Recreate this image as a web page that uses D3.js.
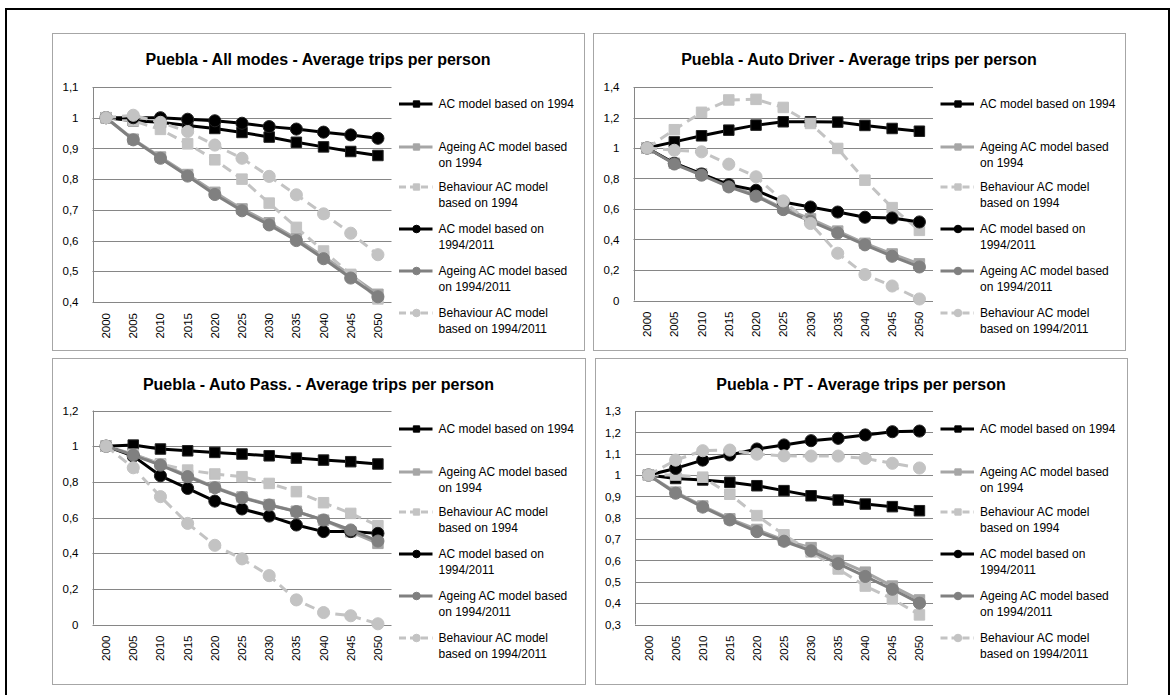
<!DOCTYPE html>
<html>
<head>
<meta charset="utf-8">
<script src="https://cdn.jsdelivr.net/npm/d3@7"></script>
<style>
  html, body { margin: 0; padding: 0; background: #fff; }
  svg { display: block; font-family: "Liberation Sans", Arial, sans-serif; }
</style>
</head>
<body>
<svg id="chart" width="1172" height="695"></svg>
<script>
// ---------- DATA ----------
const years = ["2000","2005","2010","2015","2020","2025","2030","2035","2040","2045","2050"];

const legendLabels = [
  ["AC model based on 1994"],
  ["Ageing AC model based", "on 1994"],
  ["Behaviour AC model", "based on 1994"],
  ["AC model based on", "1994/2011"],
  ["Ageing AC model based", "on 1994/2011"],
  ["Behaviour AC model", "based on 1994/2011"]
];

const titles = [
  "Puebla - All modes - Average trips per person",
  "Puebla - Auto Driver - Average trips per person",
  "Puebla - Auto Pass. - Average trips per person",
  "Puebla - PT - Average trips per person"
];

const allModesTicks   = [0.4, 0.5, 0.6, 0.7, 0.8, 0.9, 1.0, 1.1];
const autoDriverTicks = [0, 0.2, 0.4, 0.6, 0.8, 1.0, 1.2, 1.4];
const autoPassTicks   = [0, 0.2, 0.4, 0.6, 0.8, 1.0, 1.2];
const ptTicks         = [0.3, 0.4, 0.5, 0.6, 0.7, 0.8, 0.9, 1.0, 1.1, 1.2, 1.3];

// series order: AC 1994, Ageing 1994, Behaviour 1994, AC 1994/2011, Ageing 1994/2011, Behaviour 1994/2011
const allModesValues = [
  [1.0, 0.99, 0.985, 0.975, 0.965, 0.952, 0.937, 0.92, 0.905, 0.89, 0.877],
  [1.0, 0.93, 0.872, 0.815, 0.757, 0.703, 0.658, 0.606, 0.548, 0.487, 0.425],
  [1.0, 0.99, 0.962, 0.915, 0.863, 0.80, 0.722, 0.643, 0.566, 0.49, 0.41],
  [1.0, 1.0, 1.0, 0.995, 0.99, 0.982, 0.971, 0.963, 0.953, 0.944, 0.933],
  [1.0, 0.928, 0.868, 0.81, 0.75, 0.697, 0.651, 0.60, 0.541, 0.478, 0.417],
  [1.0, 1.008, 0.985, 0.955, 0.911, 0.868, 0.809, 0.749, 0.687, 0.624, 0.554]
];
const autoDriverValues = [
  [1.0, 1.04, 1.08, 1.117, 1.15, 1.172, 1.172, 1.17, 1.148, 1.128, 1.11],
  [1.0, 0.90, 0.83, 0.755, 0.69, 0.605, 0.535, 0.455, 0.375, 0.305, 0.24],
  [1.0, 1.12, 1.234, 1.315, 1.319, 1.266, 1.161, 0.997, 0.789, 0.609, 0.46],
  [1.0, 0.90, 0.83, 0.76, 0.723, 0.646, 0.613, 0.58, 0.546, 0.541, 0.515],
  [1.0, 0.895, 0.822, 0.745, 0.684, 0.596, 0.52, 0.443, 0.365, 0.29, 0.22],
  [1.0, 0.985, 0.975, 0.894, 0.811, 0.653, 0.505, 0.31, 0.17, 0.095, 0.01]
];
const autoPassValues = [
  [1.0, 1.006, 0.984, 0.974, 0.965, 0.956, 0.946, 0.933, 0.922, 0.913, 0.90],
  [1.0, 0.955, 0.90, 0.835, 0.77, 0.715, 0.672, 0.635, 0.585, 0.52, 0.455],
  [1.0, 0.95, 0.90, 0.866, 0.844, 0.829, 0.791, 0.745, 0.683, 0.623, 0.554],
  [1.0, 0.944, 0.834, 0.763, 0.692, 0.648, 0.608, 0.558, 0.521, 0.521, 0.511],
  [1.0, 0.95, 0.894, 0.829, 0.767, 0.711, 0.67, 0.633, 0.586, 0.53, 0.468],
  [1.0, 0.879, 0.717, 0.567, 0.444, 0.368, 0.274, 0.138, 0.067, 0.049, 0.004]
];
const ptValues = [
  [1.0, 0.984, 0.977, 0.966, 0.95, 0.927, 0.903, 0.883, 0.864, 0.852, 0.833],
  [1.0, 0.92, 0.855, 0.795, 0.745, 0.695, 0.66, 0.60, 0.545, 0.48, 0.415],
  [1.0, 1.0, 0.99, 0.91, 0.81, 0.72, 0.64, 0.56, 0.48, 0.42, 0.345],
  [1.0, 1.031, 1.07, 1.094, 1.122, 1.141, 1.161, 1.172, 1.188, 1.203, 1.206],
  [1.0, 0.915, 0.85, 0.79, 0.735, 0.69, 0.645, 0.585, 0.525, 0.465, 0.40],
  [1.0, 1.07, 1.114, 1.117, 1.098, 1.09, 1.089, 1.089, 1.078, 1.055, 1.033]
];

// ---------- STYLE / LAYOUT ----------
const seriesStyles = [
  { stroke: "#000000", fill: "#000000", dash: null, shape: d3.symbolSquare },
  { stroke: "#a6a6a6", fill: "#a6a6a6", dash: null, shape: d3.symbolSquare },
  { stroke: "#c3c3c3", fill: "#c3c3c3", dash: "10,6", shape: d3.symbolSquare },
  { stroke: "#000000", fill: "#000000", dash: null, shape: d3.symbolCircle },
  { stroke: "#808080", fill: "#808080", dash: null, shape: d3.symbolCircle },
  { stroke: "#c3c3c3", fill: "#c3c3c3", dash: "10,6", shape: d3.symbolCircle }
];

const panels = [
  { title: titles[0], ticks: allModesTicks, values: allModesValues,
    box: [52, 33, 584, 350], plot: [92.5, 87, 391.5, 302] },
  { title: titles[1], ticks: autoDriverTicks, values: autoDriverValues,
    box: [593, 33, 1125, 350], plot: [633.5, 87, 933, 300.5] },
  { title: titles[2], ticks: autoPassTicks, values: autoPassValues,
    box: [52, 358, 585, 684], plot: [92.5, 410.5, 391.5, 624.5] },
  { title: titles[3], ticks: ptTicks, values: ptValues,
    box: [595, 358, 1127, 684], plot: [635, 411, 933, 624.5] }
];

const locale = d3.formatLocale({ decimal: ",", thousands: ".", grouping: [3], currency: ["", ""] });
const fmt = locale.format(".1~f");

const svg = d3.select("#chart");

// outer frame
svg.append("rect")
  .attr("x", 6).attr("y", 9).attr("width", 1163).attr("height", 720)
  .attr("fill", "none").attr("stroke", "#000").attr("stroke-width", 2);

const legendOffsets = [71, 114, 154, 196, 238, 280];

panels.forEach(p => {
  const g = svg.append("g");
  const [bx0, by0, bx1, by1] = p.box;
  const [l, t, r, b] = p.plot;

  g.append("rect")
    .attr("x", bx0 + 0.5).attr("y", by0 + 0.5)
    .attr("width", bx1 - bx0).attr("height", by1 - by0)
    .attr("fill", "#fff").attr("stroke", "#a6a6a6").attr("stroke-width", 1);

  g.append("text")
    .attr("x", (bx0 + bx1) / 2).attr("y", by0 + 32)
    .attr("text-anchor", "middle")
    .attr("font-size", 16).attr("font-weight", "bold").attr("fill", "#000")
    .text(p.title);

  const x = d3.scaleBand().domain(years).range([l, r]);
  const cx = d => x(d) + x.bandwidth() / 2;
  const y = d3.scaleLinear().domain(d3.extent(p.ticks)).range([b, t]);

  // gridlines
  g.append("g").selectAll("line").data(p.ticks).join("line")
    .attr("x1", l).attr("x2", r)
    .attr("y1", d => Math.round(y(d)) + 0.5).attr("y2", d => Math.round(y(d)) + 0.5)
    .attr("stroke", "#868686").attr("stroke-width", 1);
  // left axis line
  g.append("line")
    .attr("x1", Math.round(l) + 0.5).attr("x2", Math.round(l) + 0.5)
    .attr("y1", t).attr("y2", b)
    .attr("stroke", "#868686").attr("stroke-width", 1);

  // y axis labels
  const yAxis = d3.axisLeft(y).tickValues(p.ticks).tickSize(0).tickPadding(14).tickFormat(fmt);
  const ya = g.append("g").attr("transform", `translate(${l},0)`).call(yAxis);
  ya.select(".domain").remove();
  ya.selectAll("text").attr("font-size", 11.5).attr("fill", "#000")
    .attr("font-family", "'Liberation Sans', Arial, sans-serif");

  // x axis labels
  const xAxis = d3.axisBottom(x).tickSize(0).tickPadding(0);
  const xa = g.append("g").attr("transform", `translate(0,${b})`).call(xAxis);
  xa.select(".domain").remove();
  xa.selectAll("text")
    .attr("font-size", 11.5).attr("fill", "#000")
    .attr("font-family", "'Liberation Sans', Arial, sans-serif")
    .attr("text-anchor", "end")
    .attr("transform", "translate(0,11) rotate(-90)")
    .attr("x", 0).attr("y", 0).attr("dy", "0.35em");

  // series
  const line = d3.line().x((d, i) => cx(years[i])).y(d => y(d));
  p.values.forEach((vals, si) => {
    const st = seriesStyles[si];
    const sg = g.append("g");
    sg.append("path")
      .attr("d", line(vals))
      .attr("fill", "none").attr("stroke", st.stroke).attr("stroke-width", 3)
      .attr("stroke-dasharray", st.dash).attr("stroke-linejoin", "round");
    const sym = d3.symbol().type(st.shape).size(st.shape === d3.symbolSquare ? 110 : 115);
    sg.selectAll("path.m").data(vals).join("path")
      .attr("class", "m")
      .attr("d", sym)
      .attr("transform", (d, i) => `translate(${cx(years[i])},${y(d)})`)
      .attr("fill", st.fill)
      .attr("stroke", si === 0 || si === 3 ? "#222" : st.stroke)
      .attr("stroke-width", 1);
  });

  // legend
  const lg = g.append("g");
  legendLabels.forEach((lines, si) => {
    const st = seriesStyles[si];
    const ly = by0 + legendOffsets[si];
    lg.append("line")
      .attr("x1", r + 7.5).attr("x2", r + 41).attr("y1", ly).attr("y2", ly)
      .attr("stroke", st.stroke).attr("stroke-width", 3)
      .attr("stroke-dasharray", st.dash ? "7,4" : null);
    lg.append("path")
      .attr("d", d3.symbol().type(st.shape).size(st.shape === d3.symbolSquare ? 40 : 45))
      .attr("transform", `translate(${r + 25},${ly})`)
      .attr("fill", st.fill).attr("stroke", st.stroke);
    const tx = lg.append("text")
      .attr("x", r + 47).attr("y", ly)
      .attr("font-size", 12).attr("fill", "#000");
    lines.forEach((ln, k) => {
      tx.append("tspan").attr("x", r + 47).attr("dy", k === 0 ? "0.35em" : "15.5px").text(ln);
    });
  });
});
</script>
</body>
</html>
